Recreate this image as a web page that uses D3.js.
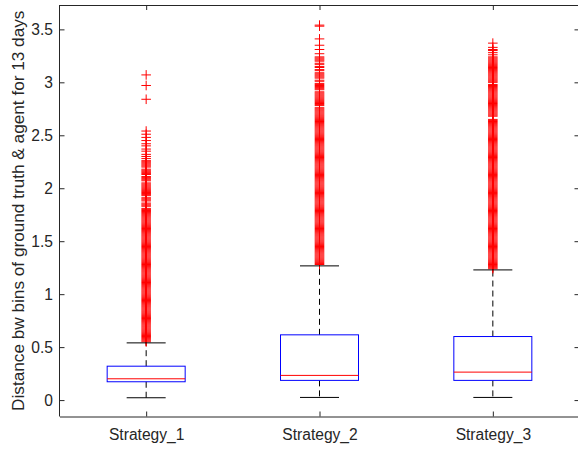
<!DOCTYPE html>
<html><head><meta charset="utf-8">
<script src="https://cdn.jsdelivr.net/npm/d3@7"></script>
<style>body{margin:0;background:#fff}svg{display:block}</style>
</head><body>
<svg id="c" width="578" height="449"></svg>
<script>
// ---------- data ----------
const categories = ["Strategy_1", "Strategy_2", "Strategy_3"];
const whiskerLow  = [0.022, 0.025, 0.025];
const q1          = [0.173, 0.186, 0.186];
const medians     = [0.201, 0.233, 0.264];
const q3          = [0.320, 0.616, 0.600];
const whiskerHigh = [0.540, 1.267, 1.229];

const outliers1 = [
0.55,0.56,0.57,0.58,0.59,0.60,0.61,0.62,0.63,0.64,0.65,0.66,0.67,0.68,0.69,
0.70,0.71,0.72,0.73,0.74,0.75,0.76,0.77,0.78,0.79,
0.80,0.81,0.82,0.83,0.84,0.85,0.86,0.87,0.88,0.89,
0.90,0.91,0.92,0.93,0.94,0.95,0.96,0.97,0.98,0.99,
1.00,1.01,1.02,1.03,1.04,1.05,1.06,1.07,1.08,1.09,
1.10,1.11,1.12,1.13,1.14,1.15,1.16,1.17,1.18,1.19,
1.20,1.21,1.22,1.23,1.24,1.25,1.26,1.27,1.28,1.29,
1.30,1.31,1.32,1.33,1.34,1.35,1.36,1.37,1.38,1.39,
1.40,1.41,1.42,1.43,1.44,1.45,1.46,1.47,1.48,1.49,
1.50,1.51,1.52,1.53,1.54,1.55,1.56,1.57,1.58,1.59,
1.60,1.61,1.62,1.63,1.64,1.65,1.66,1.67,1.68,1.69,
1.70,1.71,1.72,1.73,1.74,1.75,1.76,1.77,1.78,1.79,
1.80,1.81,1.83,1.84,1.85,1.86,1.88,1.89,
1.90,1.91,1.93,1.94,1.95,1.96,1.97,1.98,1.99,
2.00,2.01,2.02,2.03,2.04,2.05,2.07,2.08,2.09,
2.10,2.11,2.13,2.14,2.15,2.16,2.17,2.18,
2.20,2.21,2.22,2.23,2.24,2.25,2.26,
2.28,2.30,2.32,2.35,2.37,2.40,2.42,2.45,2.48,2.51,2.54,
2.84,2.97,3.07
];

const outliers2 = [
1.28,1.29,
1.30,1.31,1.32,1.33,1.34,1.35,1.36,1.37,1.38,1.39,
1.40,1.41,1.42,1.43,1.44,1.45,1.46,1.47,1.48,1.49,
1.50,1.51,1.52,1.53,1.54,1.55,1.56,1.57,1.58,1.59,
1.60,1.61,1.62,1.63,1.64,1.65,1.66,1.67,1.68,1.69,
1.70,1.71,1.72,1.73,1.74,1.75,1.76,1.77,1.78,1.79,
1.80,1.81,1.82,1.83,1.84,1.85,1.86,1.87,1.88,1.89,
1.90,1.91,1.92,1.93,1.94,1.95,1.96,1.97,1.98,1.99,
2.00,2.01,2.02,2.03,2.04,2.05,2.06,2.07,2.08,2.09,
2.10,2.11,2.12,2.13,2.14,2.15,2.16,2.17,2.18,2.19,
2.20,2.21,2.22,2.23,2.24,2.25,2.26,2.27,2.28,2.29,
2.30,2.31,2.32,2.33,2.34,2.35,2.36,2.37,2.38,2.39,
2.40,2.41,2.42,2.43,2.44,2.45,2.46,2.47,2.48,2.49,
2.50,2.51,2.52,2.53,2.54,2.55,2.56,2.57,2.58,2.59,
2.60,2.61,2.62,2.63,2.64,2.65,2.66,2.67,2.68,2.69,
2.70,2.71,2.72,2.73,2.74,2.75,2.76,2.78,2.79,
2.80,2.81,2.82,2.83,2.84,2.85,2.86,2.87,2.88,2.89,
2.90,2.91,2.93,2.94,2.95,2.96,2.97,2.98,2.99,
3.01,3.02,3.04,3.05,3.06,3.07,3.08,3.09,
3.11,3.12,3.14,3.15,3.17,3.18,
3.20,3.21,3.22,3.23,3.24,
3.27,3.31,3.35,3.41,3.53,3.54
];

const outliers3 = [
1.24,1.25,1.26,1.27,1.28,1.29,
1.30,1.31,1.32,1.33,1.34,1.35,1.36,1.37,1.38,1.39,
1.40,1.41,1.42,1.43,1.44,1.45,1.46,1.47,1.48,1.49,
1.50,1.51,1.52,1.53,1.54,1.55,1.56,1.57,1.58,1.59,
1.60,1.61,1.62,1.63,1.64,1.65,1.66,1.67,1.68,1.69,
1.70,1.71,1.72,1.73,1.74,1.75,1.76,1.77,1.78,1.79,
1.80,1.81,1.82,1.83,1.84,1.85,1.86,1.87,1.88,1.89,
1.90,1.91,1.92,1.93,1.94,1.95,1.96,1.97,1.98,1.99,
2.00,2.01,2.02,2.03,2.04,2.05,2.06,2.07,2.08,2.09,
2.10,2.11,2.12,2.13,2.14,2.15,2.16,2.17,2.18,2.19,
2.20,2.21,2.22,2.23,2.24,2.25,2.26,2.27,2.28,2.29,
2.30,2.31,2.32,2.33,2.34,2.35,2.36,2.37,2.38,2.39,
2.40,2.41,2.42,2.43,2.44,2.45,2.46,2.47,2.48,2.49,
2.50,2.51,2.52,2.53,2.54,2.55,2.56,2.57,2.58,2.59,
2.60,2.61,2.62,2.63,2.64,2.65,2.68,2.69,
2.70,2.71,2.72,2.73,2.74,2.75,2.76,2.77,2.78,2.79,
2.80,2.81,2.82,2.83,2.84,2.85,2.86,2.87,2.88,2.89,
2.90,2.91,2.92,2.93,2.94,2.95,2.96,2.97,2.98,
3.00,3.01,3.02,3.03,3.04,3.05,3.06,3.07,3.08,3.09,
3.10,3.11,3.12,3.13,3.14,3.15,3.16,3.17,3.18,3.19,
3.20,3.21,3.22,3.23,3.24,
3.26,3.28,3.30,3.31,3.33,3.37
];
const outliers = [outliers1, outliers2, outliers3];

const yTicks = [0, 0.5, 1, 1.5, 2, 2.5, 3, 3.5];
const yTickLabels = ["0", "0.5", "1", "1.5", "2", "2.5", "3", "3.5"];
const yLabel = "Distance bw bins of ground truth & agent for 13 days";

// ---------- layout ----------
const L = 59.5, R = 579.5, T = 5, B = 416.5;
const FONT = "Liberation Sans, Arial, Helvetica, sans-serif";
const AX = "#262626";

const svg = d3.select("#c");
const x = d3.scaleLinear().domain([0.5, 3.5]).range([L, R]);
const y = d3.scaleLinear().domain([-0.155, 3.73]).range([B, T]);

const boxW = 0.45, capW = 0.225;

// ---------- plot marks ----------
const g = svg.append("g");

categories.forEach((c, i) => {
  const cx = x(i + 1);
  const gi = g.append("g");
  // whiskers (dashed)
  gi.append("line").attr("x1", cx).attr("x2", cx)
    .attr("y1", y(q3[i])).attr("y2", y(whiskerHigh[i]))
    .attr("stroke", "#000").attr("stroke-width", 1).attr("stroke-dasharray", "6,4");
  gi.append("line").attr("x1", cx).attr("x2", cx)
    .attr("y1", y(q1[i])).attr("y2", y(whiskerLow[i]))
    .attr("stroke", "#000").attr("stroke-width", 1).attr("stroke-dasharray", "6,4");
  // outliers
  gi.selectAll("path.o").data(outliers[i]).join("path")
    .attr("class", "o")
    .attr("transform", d => `translate(${cx},${y(d)})`)
    .attr("d", "M-4.8,0H4.8M0,-4.8V4.8")
    .attr("stroke", "#ff0000").attr("stroke-width", 1).attr("fill", "none");
  // caps
  [whiskerLow[i], whiskerHigh[i]].forEach(v => {
    gi.append("line")
      .attr("x1", x(i + 1 - capW / 2)).attr("x2", x(i + 1 + capW / 2))
      .attr("y1", y(v)).attr("y2", y(v))
      .attr("stroke", "#000").attr("stroke-width", 1);
  });
  // box
  gi.append("rect")
    .attr("x", x(i + 1 - boxW / 2)).attr("width", x(i + 1 + boxW / 2) - x(i + 1 - boxW / 2))
    .attr("y", y(q3[i])).attr("height", y(q1[i]) - y(q3[i]))
    .attr("fill", "none").attr("stroke", "#0000ff").attr("stroke-width", 1);
  // median
  gi.append("line")
    .attr("x1", x(i + 1 - boxW / 2)).attr("x2", x(i + 1 + boxW / 2))
    .attr("y1", y(medians[i])).attr("y2", y(medians[i]))
    .attr("stroke", "#ff0000").attr("stroke-width", 1);
});

// ---------- axes ----------
function styleAxis(sel) {
  sel.select(".domain").attr("stroke", AX).attr("stroke-width", 1);
  sel.selectAll(".tick line").attr("stroke", AX).attr("stroke-width", 1);
  sel.selectAll(".tick text").attr("fill", AX).attr("font-family", FONT).attr("font-size", 15.6);
}

svg.append("g").attr("transform", `translate(${L},0)`)
  .call(d3.axisLeft(y).tickValues(yTicks).tickFormat((d, i) => yTickLabels[i])
    .tickSizeInner(-5).tickSizeOuter(0).tickPadding(6.5))
  .call(styleAxis)
  .call(s => s.select(".domain").attr("d", `M0,${B}V${T}`));

svg.append("g").attr("transform", `translate(${R},0)`)
  .call(d3.axisRight(y).tickValues(yTicks).tickFormat("")
    .tickSizeInner(-5).tickSizeOuter(0))
  .call(styleAxis)
  .call(s => s.select(".domain").attr("d", `M0,${B}V${T}`));

svg.append("g").attr("transform", `translate(0,${B})`)
  .call(d3.axisBottom(x).tickValues([1, 2, 3]).tickFormat((d, i) => categories[i])
    .tickSizeInner(-5).tickSizeOuter(0).tickPadding(12.4))
  .call(styleAxis);

svg.append("g").attr("transform", `translate(0,${T})`)
  .call(d3.axisTop(x).tickValues([1, 2, 3]).tickFormat("")
    .tickSizeInner(-5).tickSizeOuter(0))
  .call(styleAxis);

// y label
svg.append("text")
  .attr("transform", `translate(23.5,${(T + B) / 2}) rotate(-90)`)
  .attr("text-anchor", "middle")
  .attr("font-family", FONT).attr("font-size", 17.2).attr("fill", AX)
  .text(yLabel);
</script>
</body></html>
